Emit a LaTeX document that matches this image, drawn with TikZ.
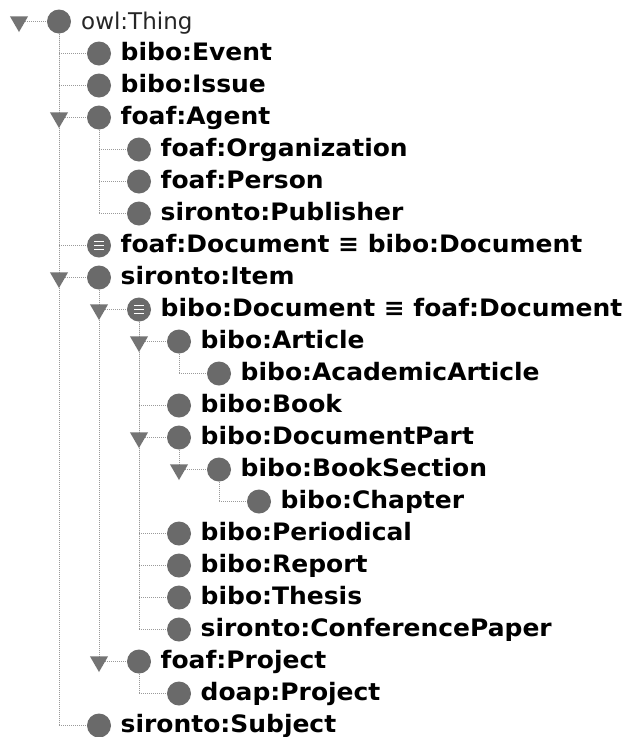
\documentclass[tikz,border=0pt]{standalone}
\usepackage{fontspec}
\setmainfont{DejaVu Sans}
\newfontfamily\lblfont{DejaVu Sans}[FakeStretch=1.04]
\usetikzlibrary{shapes.geometric}
\definecolor{icongray}{HTML}{6A6A6A}
\definecolor{trigray}{HTML}{747474}
\definecolor{linegray}{HTML}{9A9A9A}
\tikzset{
  clsnode/.style={circle, fill=icongray, minimum size=24pt, inner sep=0pt},
  eqnode/.style={clsnode, path picture={
      \draw[white, line width=1.5pt]
        ([shift={(-5pt,3.8pt)}]path picture bounding box.center) -- ++(10pt,0pt)
        ([shift={(-5pt,0pt)}]path picture bounding box.center) -- ++(10pt,0pt)
        ([shift={(-5pt,-3.8pt)}]path picture bounding box.center) -- ++(10pt,0pt);}},
  lbl/.style={anchor=base west, inner sep=0pt, text=black,
    font=\fontsize{24}{28}\lblfont\bfseries},
  rootlbl/.style={anchor=base west, inner sep=0pt, text=black!85,
    font=\fontsize{23}{27}\selectfont},
  conn/.style={draw=linegray, line width=1pt, dash pattern=on 1pt off 1pt},
  trinode/.style={regular polygon, regular polygon sides=3, shape border rotate=180,
    fill=trigray, minimum size=21pt, inner sep=0pt},
}
\newcommand\mkcls[5][clsnode]{%
  \node[#1] (c#2) at ({59+40*#3},{21.5+32*#4}) {};
  \node[lbl] (t#2) at ({80.5+40*#3},{28.5+32*#4}) {#5};}
\newcommand\mktri[3]{%
  \node[trinode] (tr#1) at ({59+40*(#2-1)},{21.5+32*#3}) {};}
\begin{document}
\begin{tikzpicture}[x=1pt,y=-1pt]
\useasboundingbox[fill=white] (0,0) rectangle (622,737);
% root
\node[clsnode] (cthing) at (59,21.5) {};
\node[rootlbl] (tthing) at (81,29.5) {owl:Thing};
\mkcls{event}{1}{1}{bibo:Event}
\mkcls{issue}{1}{2}{bibo:Issue}
\mkcls{agent}{1}{3}{foaf:Agent}
\mkcls{org}{2}{4}{foaf:Organization}
\mkcls{person}{2}{5}{foaf:Person}
\mkcls{pub}{2}{6}{sironto:Publisher}
\mkcls[eqnode]{fdoc}{1}{7}{foaf:Document ≡ bibo:Document}
\mkcls{item}{1}{8}{sironto:Item}
\mkcls[eqnode]{bdoc}{2}{9}{bibo:Document ≡ foaf:Document}
\mkcls{article}{3}{10}{bibo:Article}
\mkcls{acad}{4}{11}{bibo:AcademicArticle}
\mkcls{book}{3}{12}{bibo:Book}
\mkcls{dpart}{3}{13}{bibo:DocumentPart}
\mkcls{bsec}{4}{14}{bibo:BookSection}
\mkcls{chap}{5}{15}{bibo:Chapter}
\mkcls{period}{3}{16}{bibo:Periodical}
\mkcls{report}{3}{17}{bibo:Report}
\mkcls{thesis}{3}{18}{bibo:Thesis}
\mkcls{conf}{3}{19}{sironto:ConferencePaper}
\mkcls{fproj}{2}{20}{foaf:Project}
\mkcls{dproj}{3}{21}{doap:Project}
\mkcls{subj}{1}{22}{sironto:Subject}
% connectors
\foreach \p/\c in {thing/event, thing/issue, thing/agent, thing/fdoc, thing/item, thing/subj,
  agent/org, agent/person, agent/pub, item/bdoc, item/fproj,
  bdoc/article, bdoc/book, bdoc/dpart, bdoc/period, bdoc/report, bdoc/thesis, bdoc/conf,
  article/acad, dpart/bsec, bsec/chap, fproj/dproj}
  \draw[conn] (c\p.south) |- (c\c.west);
% expand triangles
\mktri{thing}{0}{0}
\draw[conn] (trthing) -- (cthing);
\mktri{agent}{1}{3}
\mktri{item}{1}{8}
\mktri{bdoc}{2}{9}
\mktri{article}{3}{10}
\mktri{dpart}{3}{13}
\mktri{bsec}{4}{14}
\mktri{fproj}{2}{20}
\end{tikzpicture}
\end{document}
